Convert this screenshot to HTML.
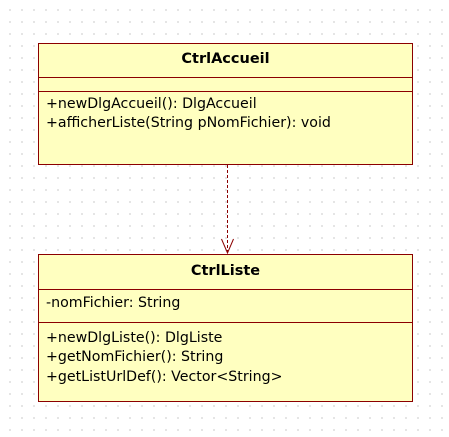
<!DOCTYPE html>
<html><head><style>
html,body{margin:0;padding:0}
body{width:449px;height:437px;position:relative;overflow:hidden;background:#fff;
background-image:radial-gradient(circle,#d4d4d4 0.7px,transparent 1px);background-size:12px 12px;background-position:4px 4px;
font-family:"DejaVu Sans",sans-serif;font-size:14.2px;color:#000}
.box{position:absolute;left:38px;width:375px;background:#ffffc0;border:1px solid #8b0000;box-sizing:border-box}
.t{position:absolute;white-space:nowrap;line-height:17px}
.sep{position:absolute;left:0;right:0;height:0;border-top:1px solid #8b0000}
.h{font-weight:bold;left:0;right:0;text-align:center;font-size:14.5px}
</style></head><body>
<div class="box" style="top:43px;height:122px">
<div class="t h" style="top:7px">CtrlAccueil</div>
<div class="sep" style="top:33px"></div>
<div class="sep" style="top:47px"></div>
<div class="t" style="left:7px;top:52px">+newDlgAccueil(): DlgAccueil</div>
<div class="t" style="left:7px;top:71px">+afficherListe(String pNomFichier): void</div>
</div>
<div class="box" style="top:254px;height:148px">
<div class="t h" style="top:8px">CtrlListe</div>
<div class="sep" style="top:34px"></div>
<div class="t" style="left:7px;top:40px">-nomFichier: String</div>
<div class="sep" style="top:67px"></div>
<div class="t" style="left:7px;top:75px">+newDlgListe(): DlgListe</div>
<div class="t" style="left:7px;top:94px">+getNomFichier(): String</div>
<div class="t" style="left:7px;top:114px">+getListUrlDef(): Vector&lt;String&gt;</div>
</div>
<svg style="position:absolute;left:0;top:0" width="449" height="437">
<line x1="227.5" y1="165" x2="227.5" y2="253" stroke="#8b0000" stroke-width="1" stroke-dasharray="3,2"/>
<polyline points="221.5,239 227.5,253 233.5,239" fill="none" stroke="#8b0000" stroke-width="1"/>
</svg>
</body></html>
